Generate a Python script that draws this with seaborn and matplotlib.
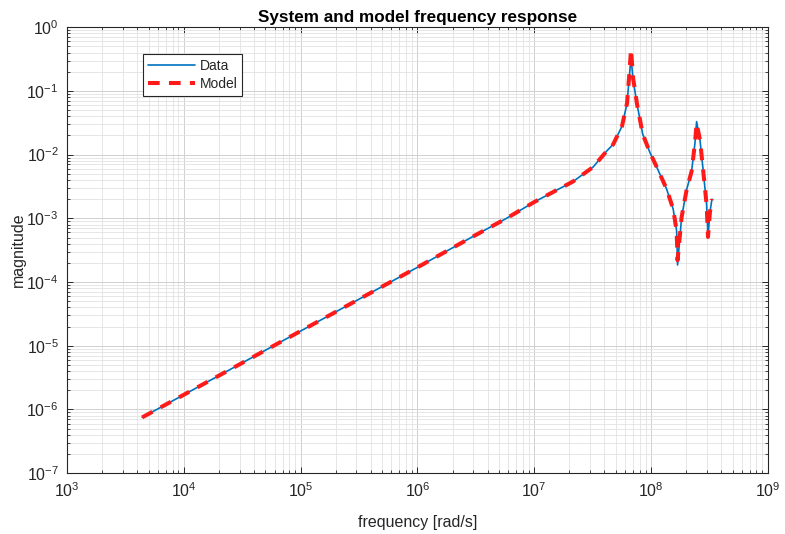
import matplotlib
matplotlib.use("Agg")
import matplotlib.pyplot as plt
import matplotlib.ticker as mticker
import numpy as np
import pandas as pd
import seaborn as sns

# Frequency points [rad/s]
freq = [4.4e3, 1e4, 3e4, 1e5, 3e5, 1e6, 3e6, 5.8e6, 1e7, 1.46e7, 2.16e7,
        3.2e7, 4.2e7, 4.75e7, 5.65e7, 6.24e7, 6.49e7, 6.75e7, 7.03e7, 7.6e7,
        8.5e7, 9.84e7, 1.12e8, 1.36e8, 1.55e8, 1.66e8, 1.69e8, 1.83e8,
        2.02e8, 2.23e8, 2.38e8, 2.46e8, 2.63e8, 2.81e8, 3.0e8, 3.08e8,
        3.2e8, 3.33e8]

# Measured magnitude
data_mag = [7.5e-7, 1.7e-6, 5.1e-6, 1.7e-5, 5.1e-5, 1.7e-4, 5.2e-4, 1.0e-3,
            1.8e-3, 2.6e-3, 3.8e-3, 6.4e-3, 1.15e-2, 1.45e-2, 2.8e-2, 6.4e-2,
            0.148, 0.34, 0.15, 6.2e-2, 2.1e-2, 1.06e-2, 6.4e-3, 2.9e-3,
            1.4e-3, 6.3e-4, 1.85e-4, 1.04e-3, 2.8e-3, 5.5e-3, 1.5e-2, 3.3e-2,
            1.7e-2, 5.3e-3, 1.6e-3, 5.1e-4, 1.25e-3, 2.0e-3]

# Fitted model magnitude
model_mag = [7.5e-7, 1.7e-6, 5.1e-6, 1.7e-5, 5.1e-5, 1.7e-4, 5.2e-4, 1.0e-3,
             1.8e-3, 2.6e-3, 3.8e-3, 6.4e-3, 1.15e-2, 1.45e-2, 2.8e-2, 6.4e-2,
             0.16, 0.45, 0.16, 6.2e-2, 2.1e-2, 1.06e-2, 6.4e-3, 2.9e-3,
             1.4e-3, 6.3e-4, 2.2e-4, 1.04e-3, 2.8e-3, 5.5e-3, 1.5e-2, 3.1e-2,
             1.7e-2, 5.3e-3, 1.6e-3, 5.1e-4, 1.25e-3, 2.0e-3]

xticks = [1e3, 1e4, 1e5, 1e6, 1e7, 1e8, 1e9]
yticks = [1e-7, 1e-6, 1e-5, 1e-4, 1e-3, 1e-2, 1e-1, 1e0]

sns.set_theme(style="white")
plt.rcParams["font.family"] = ["Liberation Sans", "DejaVu Sans"]
plt.rcParams["mathtext.default"] = "regular"

df = pd.DataFrame({"freq": freq, "Data": data_mag, "Model": model_mag})

fig = plt.figure(figsize=(7.85, 5.34), dpi=100)
ax = fig.add_axes([0.0854, 0.114, 0.8926, 0.835])

axis_col = "#262626"

sns.lineplot(data=df, x="freq", y="Data", ax=ax, color="#0072BD",
             linewidth=1.2, sort=False, label="Data", zorder=3)
sns.lineplot(data=df, x="freq", y="Model", ax=ax, color="#FF1A1A",
             linewidth=2.9, sort=False, label="Model", zorder=4,
             dashes=False)
ax.lines[1].set_dashes([2.9, 2.3])

ax.set_xscale("log")
ax.set_yscale("log")
ax.set_xlim(1e3, 1e9)
ax.set_ylim(1e-7, 1e0)
ax.set_xticks(xticks)
ax.set_yticks(yticks)
ax.xaxis.set_minor_locator(mticker.LogLocator(base=10, subs=np.arange(2, 10), numticks=20))
ax.yaxis.set_minor_locator(mticker.LogLocator(base=10, subs=np.arange(2, 10), numticks=20))
ax.xaxis.set_minor_formatter(mticker.NullFormatter())
ax.yaxis.set_minor_formatter(mticker.NullFormatter())

ax.grid(True, which="major", color="#d0d0d0", linewidth=0.7, linestyle="-")
ax.grid(True, which="minor", color="#e2e2e2", linewidth=0.6, linestyle="-")
ax.set_axisbelow(True)

for s in ax.spines.values():
    s.set_visible(True)
    s.set_color(axis_col)
    s.set_linewidth(0.8)

ax.tick_params(which="both", direction="in", top=True, right=True,
               bottom=True, left=True, colors=axis_col, labelcolor=axis_col)
ax.tick_params(which="major", length=4, width=0.7, labelsize=11.5, pad=6)
ax.tick_params(which="minor", length=2.5, width=0.6)

ax.set_xlabel("frequency [rad/s]", fontsize=11.5, color=axis_col, labelpad=11)
ax.set_ylabel("magnitude", fontsize=11.5, color=axis_col, labelpad=0)
ax.set_title("System and model frequency response", fontsize=12.3,
             fontweight="bold", color="black", pad=4)

leg = ax.legend(loc="upper left", bbox_to_anchor=(0.108, 0.94),
                borderaxespad=0, fontsize=10, frameon=True, fancybox=False,
                edgecolor=axis_col, framealpha=1, handlelength=3.4,
                handletextpad=0.35, labelspacing=0.3, borderpad=0.35)
leg.get_frame().set_linewidth(0.8)

fig.savefig("out.png", dpi=100)
